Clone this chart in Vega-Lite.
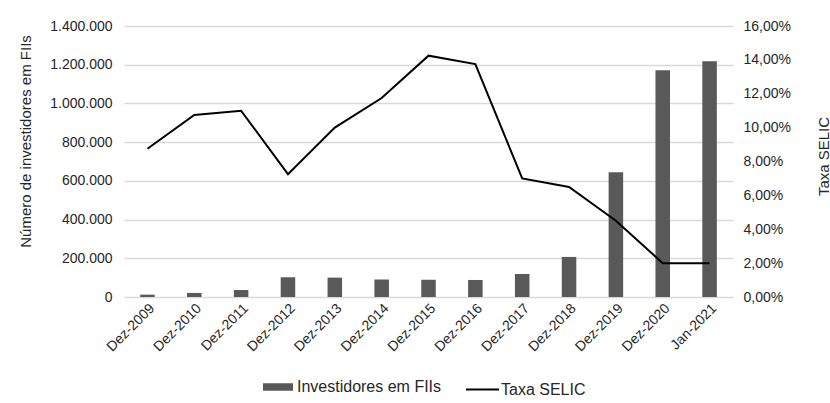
{
  "$schema": "https://vega.github.io/schema/vega-lite/v6.json",
  "width": 609,
  "height": 271,
  "autosize": {"type": "none"},
  "padding": {"left": 124, "top": 26, "right": 97, "bottom": 106},
  "background": "white",
  "config": {
    "locale": {"number": {"decimal": ",", "thousands": ".", "grouping": [3], "currency": ["R$", ""]}},
    "font": "Liberation Sans",
    "view": {"stroke": null},
    "axis": {"labelFont": "Liberation Sans", "titleFont": "Liberation Sans", "labelFontSize": 14, "titleFontSize": 15, "titleFontWeight": "normal", "labelColor": "#262626", "titleColor": "#262626"},
    "legend": {"labelFont": "Liberation Sans", "labelFontSize": 16, "labelColor": "#262626"}
  },
  "data": {
    "values": [
      {"periodo": "Dez-2009", "investidores": 12000, "selic": 0.0875},
      {"periodo": "Dez-2010", "investidores": 21000, "selic": 0.1075},
      {"periodo": "Dez-2011", "investidores": 36000, "selic": 0.11},
      {"periodo": "Dez-2012", "investidores": 102000, "selic": 0.0725},
      {"periodo": "Dez-2013", "investidores": 100000, "selic": 0.10},
      {"periodo": "Dez-2014", "investidores": 91000, "selic": 0.1175},
      {"periodo": "Dez-2015", "investidores": 89000, "selic": 0.1425},
      {"periodo": "Dez-2016", "investidores": 88000, "selic": 0.1375},
      {"periodo": "Dez-2017", "investidores": 119000, "selic": 0.07},
      {"periodo": "Dez-2018", "investidores": 207000, "selic": 0.065},
      {"periodo": "Dez-2019", "investidores": 644000, "selic": 0.045},
      {"periodo": "Dez-2020", "investidores": 1171000, "selic": 0.02},
      {"periodo": "Jan-2021", "investidores": 1218000, "selic": 0.02}
    ]
  },
  "encoding": {
    "x": {
      "field": "periodo", "type": "nominal", "sort": null,
      "scale": {"paddingInner": 0.69, "paddingOuter": 0.345},
      "axis": {"title": null, "labelAngle": -45, "labelAlign": "right", "labelBaseline": "top", "labelPadding": 4, "ticks": false, "domain": false, "grid": false}
    }
  },
  "layer": [
    {
      "mark": {"type": "bar"},
      "encoding": {
        "y": {
          "field": "investidores", "type": "quantitative",
          "scale": {"domain": [0, 1400000]},
          "axis": {"title": "Número de investidores em FIIs", "format": ",.0f", "values": [0, 200000, 400000, 600000, 800000, 1000000, 1200000, 1400000], "ticks": false, "domain": false, "labelPadding": 12, "titleX": -99, "titleY": 115, "titleAngle": -90, "titleAlign": "center", "titleBaseline": "middle", "gridColor": "#d9d9d9", "gridWidth": 1.5}
        },
        "color": {
          "datum": "Investidores em FIIs",
          "scale": {"range": ["#595959"]},
          "legend": {"title": null, "orient": "none", "legendX": 139, "legendY": 346, "symbolType": "M-1,-0.25H1V0.25H-1Z", "symbolSize": 900, "symbolStrokeWidth": 0, "symbolOpacity": 1, "labelOffset": 4}
        }
      }
    },
    {
      "mark": {"type": "line", "strokeWidth": 2},
      "encoding": {
        "y": {
          "field": "selic", "type": "quantitative",
          "scale": {"domain": [0, 0.16]},
          "axis": {"title": "Taxa SELIC", "orient": "right", "format": ".2%", "values": [0, 0.02, 0.04, 0.06, 0.08, 0.1, 0.12, 0.14, 0.16], "ticks": false, "domain": false, "grid": false, "labelPadding": 10, "titleX": 90, "titleY": 130, "titleAngle": -90, "titleAlign": "center", "titleBaseline": "middle"}
        },
        "stroke": {
          "datum": "Taxa SELIC",
          "scale": {"range": ["#000000"]},
          "legend": {"title": null, "orient": "none", "legendX": 341, "legendY": 346, "symbolType": "stroke", "symbolSize": 1089, "symbolStrokeWidth": 2, "labelOffset": 1}
        }
      }
    }
  ],
  "resolve": {"scale": {"y": "independent"}}
}
